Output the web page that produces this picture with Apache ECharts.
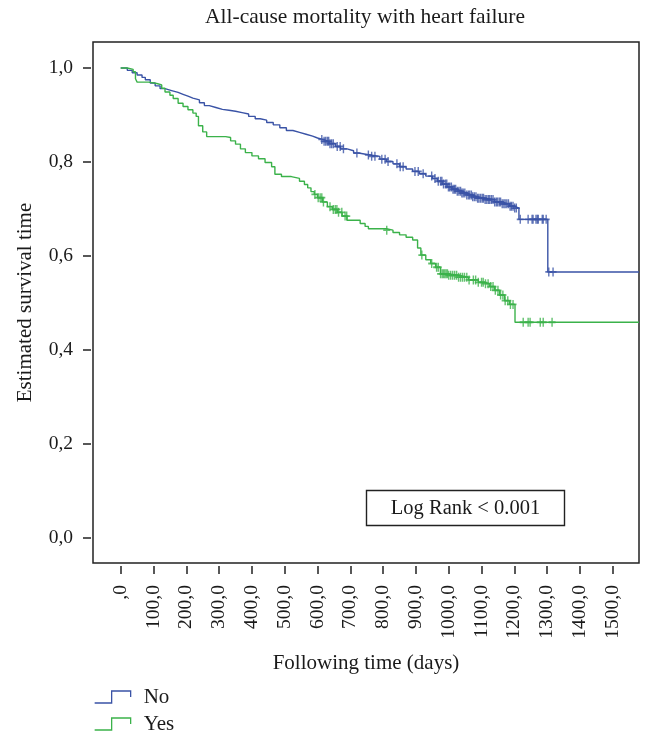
<!DOCTYPE html>
<html><head><meta charset="utf-8">
<script src="https://cdn.jsdelivr.net/npm/echarts@6/dist/echarts.min.js"></script>
<style>html,body{margin:0;padding:0;background:#fff}#c{width:654px;height:743px}</style>
</head><body><div id="c"></div>
<script>
// ---- data ----
const seriesNames = ['No', 'Yes'];
const xTicks = [0,100,200,300,400,500,600,700,800,900,1000,1100,1200,1300,1400,1500];
const yTicks = [0,0.2,0.4,0.6,0.8,1.0];

const noTimes = [0,20,35,50,65,75,90,105,120,135,155,175,190,205,220,240,255,270,290,310,330,350,370,390,410,425,445,465,485,505,525,545,565,585,600,615,635,655,670,690,710,725,760,790,810,830,850,870,890,910,930,950,965,980,995,1010,1025,1040,1055,1070,1085,1110,1140,1160,1185,1200,1214,1302,1580];
const noSurv  = [1.0,0.995,0.99,0.985,0.98,0.975,0.968,0.962,0.956,0.952,0.948,0.944,0.940,0.936,0.932,0.926,0.920,0.916,0.912,0.910,0.908,0.905,0.902,0.897,0.892,0.889,0.884,0.879,0.873,0.867,0.863,0.859,0.855,0.851,0.848,0.844,0.839,0.833,0.828,0.824,0.819,0.815,0.812,0.806,0.801,0.796,0.790,0.785,0.780,0.775,0.770,0.765,0.759,0.753,0.747,0.742,0.738,0.734,0.730,0.726,0.723,0.720,0.715,0.711,0.706,0.702,0.678,0.566,0.566];

const yesTimes = [0,20,38,45,50,85,110,125,135,150,160,175,190,205,220,230,237,250,262,320,335,350,365,380,400,420,440,460,470,490,520,545,560,570,580,590,600,615,630,645,660,675,690,730,745,755,810,830,850,870,890,905,915,930,945,960,975,1000,1030,1060,1090,1110,1125,1140,1155,1170,1185,1202,1580];
const yesSurv  = [1.0,0.997,0.992,0.977,0.970,0.967,0.964,0.957,0.949,0.942,0.935,0.925,0.918,0.911,0.904,0.897,0.877,0.864,0.854,0.852,0.845,0.838,0.828,0.820,0.813,0.807,0.799,0.790,0.774,0.769,0.765,0.759,0.752,0.745,0.737,0.731,0.724,0.715,0.705,0.699,0.693,0.685,0.676,0.669,0.663,0.658,0.655,0.650,0.645,0.640,0.634,0.617,0.602,0.592,0.584,0.576,0.562,0.559,0.555,0.549,0.544,0.541,0.535,0.527,0.517,0.505,0.497,0.459,0.459];

const noCensorTimes = [613,620,625,630,634,638,643,648,660,669,679,720,755,765,775,796,806,815,842,852,861,897,907,922,948,958,968,975,979,984,990,994,999,1003,1008,1013,1017,1021,1026,1031,1036,1040,1044,1049,1055,1060,1064,1069,1073,1078,1083,1088,1092,1097,1102,1106,1111,1116,1121,1125,1130,1135,1140,1145,1149,1154,1158,1163,1168,1172,1177,1182,1187,1191,1196,1201,1206,1218,1242,1254,1257,1266,1270,1273,1285,1288,1297,1305,1318];
const yesCensorTimes = [592,602,608,613,618,638,648,654,659,664,674,684,689,811,918,948,963,968,975,980,984,988,992,996,1000,1006,1012,1018,1024,1030,1036,1042,1048,1055,1062,1075,1082,1090,1100,1105,1112,1120,1128,1135,1142,1150,1158,1165,1172,1180,1188,1196,1227,1242,1248,1279,1288,1315];

const logRankText = 'Log Rank < 0.001';

// ---- helpers ----
function pairs(t, s) { return t.map((v, i) => [v, s[i]]); }
function survAt(times, surv, t) {
  let s = surv[0];
  for (let i = 0; i < times.length; i++) { if (times[i] <= t) s = surv[i]; else break; }
  return s;
}
function censorPts(ct, times, surv) { return ct.map(t => [t, survAt(times, surv, t)]); }

const FONT = "'Liberation Serif','Times New Roman',serif";
const BLUE = '#3a53a6';
const GREEN = '#3bb24a';
const PLUS = 'path://M4,0 L6,0 L6,4 L10,4 L10,6 L6,6 L6,10 L4,10 L4,6 L0,6 L0,4 L4,4 Z';
const STEP = 'path://M0,12 L17,12 L17,0 L36,0 L36,6';

const chart = echarts.init(document.getElementById('c'), null, { renderer: 'canvas' });
chart.setOption({
  animation: false,
  backgroundColor: '#fff',
  title: {
    text: 'All-cause mortality with heart failure',
    left: 365, top: 6, textAlign: 'center', padding: 0,
    textStyle: { fontFamily: FONT, fontSize: 21.5, fontWeight: 'normal', color: '#1a1a1a' }
  },
  grid: { left: 93, top: 42, right: 15, bottom: 180, show: true, borderColor: '#222', borderWidth: 1.5, backgroundColor: 'transparent' },
  xAxis: {
    type: 'value', min: -84.5, max: 1580, offset: 3,
    name: 'Following time (days)', nameLocation: 'middle', nameGap: 87,
    nameTextStyle: { fontFamily: FONT, fontSize: 21, color: '#1a1a1a' },
    axisLine: { show: false, onZero: false },
    splitLine: { show: false },
    axisTick: { show: true, customValues: xTicks, length: 8, lineStyle: { color: '#222', width: 1.5 } },
    axisLabel: {
      customValues: xTicks, rotate: 90, margin: 19,
      fontFamily: FONT, fontSize: 19.5, color: '#1a1a1a',
      formatter: v => v === 0 ? ',0' : v.toFixed(1).replace('.', ',')
    }
  },
  yAxis: {
    type: 'value', min: -0.0532, max: 1.0553, offset: 2,
    name: 'Estimated survival time', nameLocation: 'middle', nameGap: 55,
    nameTextStyle: { fontFamily: FONT, fontSize: 21, color: '#1a1a1a' },
    axisLine: { show: false, onZero: false },
    splitLine: { show: false },
    axisTick: { show: true, customValues: yTicks, length: 8, lineStyle: { color: '#222', width: 1.5 } },
    axisLabel: {
      customValues: yTicks, margin: 18,
      fontFamily: FONT, fontSize: 19.5, color: '#1a1a1a',
      formatter: v => v.toFixed(1).replace('.', ',')
    }
  },
  legend: {
    data: [
      { name: 'No', icon: STEP, itemStyle: { color: 'transparent', borderColor: BLUE, borderWidth: 1.3 } },
      { name: 'Yes', icon: STEP, itemStyle: { color: 'transparent', borderColor: GREEN, borderWidth: 1.3 } }
    ],
    orient: 'vertical', left: 94, top: 686, height: 80, itemWidth: 36, itemHeight: 12, itemGap: 5, padding: 0,
    textStyle: { fontFamily: FONT, fontSize: 21, color: '#1a1a1a', padding: [0, 0, 0, 8], lineHeight: 22 }
  },
  graphic: [{
    type: 'group', left: 364, top: 488,
    children: [
      { type: 'rect', shape: { x: 0, y: 0, width: 198, height: 35 }, style: { fill: 'none', stroke: '#222', lineWidth: 1.4 } },
      { type: 'text', x: 99, y: 18, style: { text: logRankText, font: '20.5px ' + FONT, fill: '#1a1a1a', align: 'center', verticalAlign: 'middle' } }
    ]
  }],
  series: [
    { name: seriesNames[0], type: 'line', step: 'end', symbol: 'none', data: pairs(noTimes, noSurv), lineStyle: { color: BLUE, width: 1.4 }, itemStyle: { color: BLUE }, z: 2 },
    { name: seriesNames[1], type: 'line', step: 'end', symbol: 'none', data: pairs(yesTimes, yesSurv), lineStyle: { color: GREEN, width: 1.4 }, itemStyle: { color: GREEN }, z: 2 },
    { name: 'No censored', type: 'scatter', symbol: PLUS, symbolSize: [7, 9], data: censorPts(noCensorTimes, noTimes, noSurv), itemStyle: { color: BLUE }, z: 3 },
    { name: 'Yes censored', type: 'scatter', symbol: PLUS, symbolSize: [7, 9], data: censorPts(yesCensorTimes, yesTimes, yesSurv), itemStyle: { color: GREEN }, z: 3 }
  ]
});
</script></body></html>
